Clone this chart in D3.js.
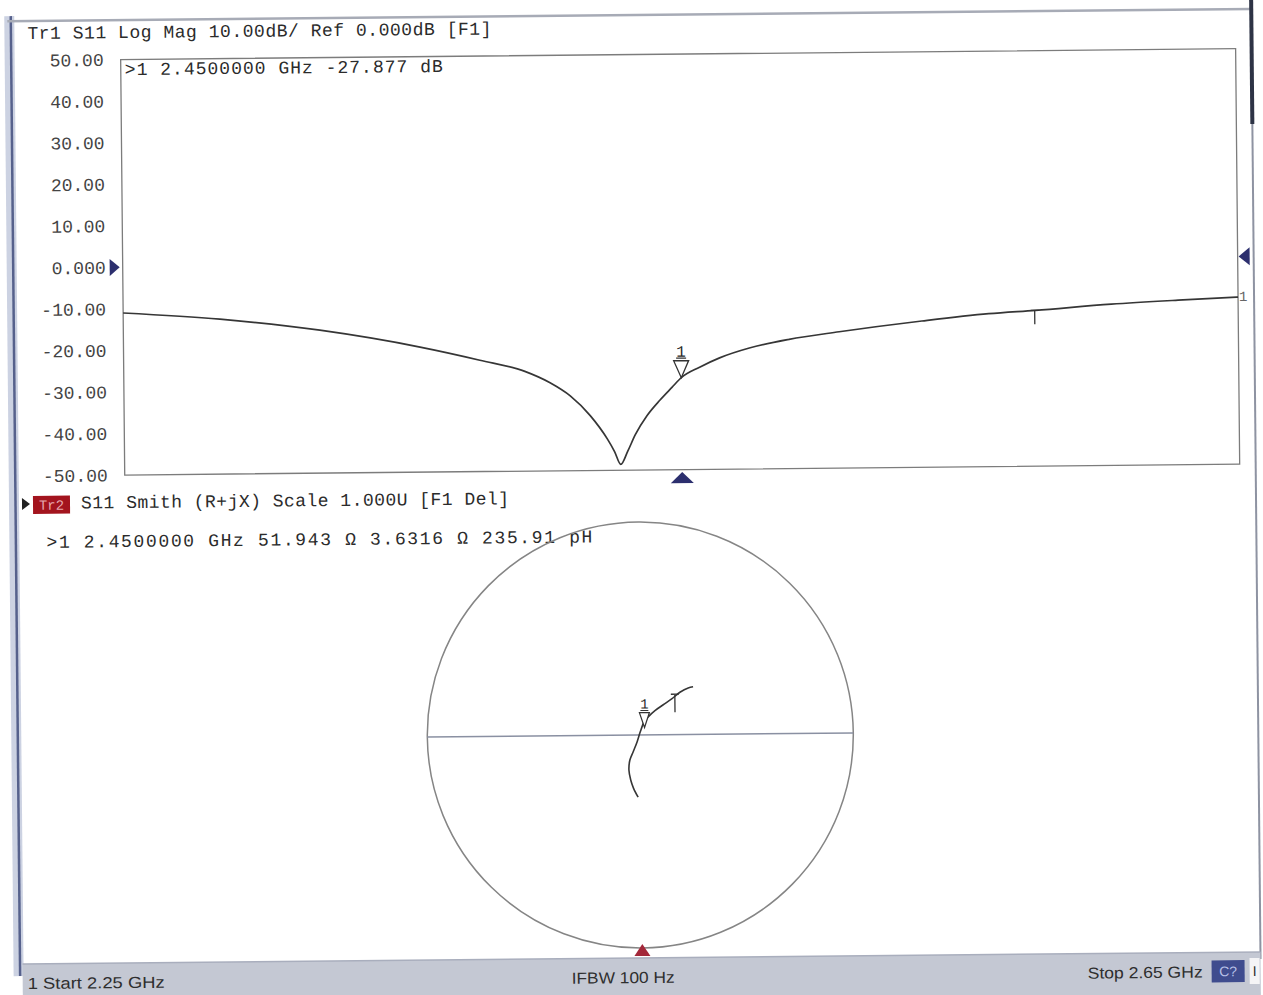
<!DOCTYPE html>
<html>
<head>
<meta charset="utf-8">
<script src="https://cdn.jsdelivr.net/npm/d3@7"></script>
<style>
  body { margin: 0; background: #fff; }
  .mono { font-family: "Liberation Mono", "DejaVu Sans Mono", monospace; fill: #2b2b2b; }
  .sans { font-family: "Liberation Sans", Arial, sans-serif; fill: #2e2e2e; }
</style>
</head>
<body>
<svg id="vna" width="1263" height="995"></svg>
<script>
// ---- data ----
const freqStart = 2.25, freqStop = 2.65;
const yTicks = [50, 40, 30, 20, 10, 0, -10, -20, -30, -40, -50];
const yTickLabels = ["50.00", "40.00", "30.00", "20.00", "10.00", "0.000",
  "-10.00", "-20.00", "-30.00", "-40.00", "-50.00"];

// S11 log mag trace (GHz, dB)
const freqGHz = [2.25, 2.2847, 2.3205, 2.3564, 2.3778, 2.3939, 2.4029, 2.4101, 2.4172,
  2.4233, 2.4258, 2.428, 2.4305, 2.4333, 2.4376, 2.4423, 2.4466, 2.45, 2.4566,
  2.4638, 2.4745, 2.4888, 2.5068, 2.5365, 2.5605, 2.5773, 2.6045, 2.6285, 2.65];
const s11dB = [-11.0, -12.7, -15.6, -19.9, -23.2, -26.0, -28.8, -32.0, -36.8,
  -42.5, -45.5, -48.6, -45.5, -41.5, -36.9, -33.2, -30.2, -27.877, -25.4,
  -23.2, -20.9, -18.9, -17.2, -14.8, -13.2, -12.5, -11.2, -10.4, -9.8];

// S11 smith trace (reflection coefficient, start -> stop)
const smithRe = [-0.013, -0.034, -0.047, -0.055, -0.050, -0.034, -0.015, 0.000,
  0.019, 0.039, 0.070, 0.109, 0.149, 0.188, 0.227, 0.250];
const smithIm = [-0.292, -0.250, -0.211, -0.164, -0.117, -0.078, -0.031, 0.015,
  0.062, 0.086, 0.114, 0.141, 0.168, 0.199, 0.219, 0.224];

// marker 1 and the small stimulus tick
const markerFreq = 2.45, markerDb = -27.877;
const markerR = 51.943, markerX = 3.6316, z0 = 50;
const tickFreq = 2.577, tickDb = -12.5;
const smithTick = [0.164, 0.19];

// screen texts
const hdr1 = "Tr1 S11 Log Mag 10.00dB/ Ref 0.000dB [F1]";
const mk1 = ">1  2.4500000 GHz -27.877 dB";
const hdr2 = "S11 Smith (R+jX) Scale 1.000U [F1 Del]";
const mk2 = ">1  2.4500000 GHz  51.943 \u03A9  3.6316 \u03A9  235.91 pH";
const statusTexts = ["1 Start 2.25 GHz", "IFBW 100 Hz", "Stop 2.65 GHz"];

// ---- drawing ----
var svg = d3.select("#vna");
svg.append("rect").attr("width", 1263).attr("height", 995).attr("fill", "#fff");

// the photo is slightly tilted
var root = svg.append("g").attr("transform", "rotate(-0.56,640,500)");

// window frame
root.append("rect").attr("x", 9).attr("y", 10).attr("width", 10).attr("height", 960).attr("fill", "#ccd2e2");
root.append("line").attr("x1", 15.5).attr("x2", 15.5).attr("y1", 10).attr("y2", 970)
  .attr("stroke", "#56618c").attr("stroke-width", 2.5);
root.append("line").attr("x1", 12).attr("x2", 1256).attr("y1", 15).attr("y2", 15)
  .attr("stroke", "#a7abb6").attr("stroke-width", 2.5);
root.append("line").attr("x1", 1256).attr("x2", 1256).attr("y1", 0).attr("y2", 965)
  .attr("stroke", "#8e93a2").attr("stroke-width", 2);
root.append("line").attr("x1", 1256).attr("x2", 1256).attr("y1", 0).attr("y2", 130)
  .attr("stroke", "#2d3345").attr("stroke-width", 4);

// ---- upper pane: log mag ----
var box = { left: 125, right: 1240, top: 54.5, bottom: 470 };
var x = d3.scaleLinear().domain([freqStart, freqStop]).range([box.left, box.right]),
  y = d3.scaleLinear().domain([-50, 50]).range([box.bottom, box.top]);

root.append("rect")
  .attr("x", box.left).attr("y", box.top)
  .attr("width", box.right - box.left).attr("height", box.bottom - box.top)
  .attr("fill", "none").attr("stroke", "#7c7c7c").attr("stroke-width", 1.3);

root.append("text").attr("class", "mono")
  .attr("x", 32).attr("y", 33).attr("font-size", 18)
  .attr("textLength", 464).text(hdr1);

root.append("text").attr("class", "mono")
  .attr("x", 129).attr("y", 70).attr("font-size", 18)
  .attr("textLength", 318).text(mk1);

var yAxis = root.append("g")
  .attr("transform", `translate(${box.left},0)`)
  .call(d3.axisLeft(y).tickValues(yTicks).tickFormat((d, i) => yTickLabels[i]).tickSize(0).tickPadding(17));
yAxis.select(".domain").remove();
yAxis.selectAll("text")
  .attr("class", "mono")
  .attr("font-size", 18)
  .style("fill", "#444");

// reference level arrows
var yRef = y(0);
root.append("path")
  .attr("d", `M${box.left - 13},${yRef - 8.5} L${box.left - 3},${yRef} L${box.left - 13},${yRef + 8.5} Z`)
  .attr("fill", "#2c2f6e");
root.append("path")
  .attr("d", `M${box.right + 12},${yRef - 9} L${box.right + 1},${yRef} L${box.right + 12},${yRef + 9} Z`)
  .attr("fill", "#2c2f6e");

var trace = freqGHz.map((f, i) => [f, s11dB[i]]);
root.append("path")
  .datum(trace)
  .attr("fill", "none")
  .attr("stroke", "#363636")
  .attr("stroke-width", 1.7)
  .attr("d", d3.line().x(d => x(d[0])).y(d => y(d[1])).curve(d3.curveMonotoneX));

// marker 1
var mx = x(markerFreq), my = y(markerDb);
root.append("path")
  .attr("d", `M${mx - 7.5},${my - 17} L${mx + 7.5},${my - 17} L${mx},${my} Z`)
  .attr("fill", "#fff").attr("stroke", "#333").attr("stroke-width", 1.3);
root.append("line").attr("x1", mx - 5).attr("x2", mx + 5).attr("y1", my - 19.5).attr("y2", my - 19.5)
  .attr("stroke", "#333").attr("stroke-width", 1.2);
root.append("text").attr("class", "mono").attr("font-size", 16)
  .attr("x", mx).attr("y", my - 21).attr("text-anchor", "middle").text("1");
root.append("path")
  .attr("d", `M${mx - 11.5},${box.bottom + 13.5} L${mx + 11.5},${box.bottom + 13.5} L${mx},${box.bottom + 2.5} Z`)
  .attr("fill", "#2c2f6e");

// stimulus tick and trace end label
var tx = x(tickFreq), ty = y(tickDb);
root.append("path")
  .attr("d", `M${tx - 4},${ty} L${tx + 4},${ty} M${tx},${ty} L${tx},${ty + 14}`)
  .attr("fill", "none").attr("stroke", "#333").attr("stroke-width", 1.3);
root.append("text").attr("class", "mono").attr("font-size", 14).style("fill", "#666")
  .attr("x", box.right + 1).attr("y", y(s11dB[s11dB.length - 1]) + 4).text("1");

// ---- lower pane: smith chart ----
root.append("path")
  .attr("d", "M22,492 L30,498 L22,504 Z").attr("fill", "#222");
root.append("rect").attr("x", 33).attr("y", 490).attr("width", 37).attr("height", 18).attr("fill", "#a3141e");
root.append("text").attr("class", "mono").attr("font-size", 14).style("fill", "#e6a7ad")
  .attr("x", 51.5).attr("y", 504).attr("text-anchor", "middle").text("Tr2");
root.append("text").attr("class", "mono")
  .attr("x", 81).attr("y", 503).attr("font-size", 18)
  .attr("textLength", 428).text(hdr2);
root.append("text").attr("class", "mono")
  .attr("x", 46).attr("y", 542).attr("font-size", 18)
  .attr("textLength", 546).text(mk2);

var cx = 638, cy = 735, rad = 213;
var sx = d3.scaleLinear().domain([-1, 1]).range([cx - rad, cx + rad]),
  sy = d3.scaleLinear().domain([-1, 1]).range([cy + rad, cy - rad]);

root.append("circle")
  .attr("cx", sx(0)).attr("cy", sy(0)).attr("r", sx(1) - sx(0))
  .attr("fill", "none").attr("stroke", "#858585").attr("stroke-width", 1.5);
root.append("line")
  .attr("x1", sx(-1)).attr("x2", sx(1)).attr("y1", sy(0)).attr("y2", sy(0))
  .attr("stroke", "#8a90a2").attr("stroke-width", 1.5);

var smith = smithRe.map((r, i) => [r, smithIm[i]]);
root.append("path")
  .datum(smith)
  .attr("fill", "none")
  .attr("stroke", "#363636")
  .attr("stroke-width", 1.6)
  .attr("d", d3.line().x(d => sx(d[0])).y(d => sy(d[1])).curve(d3.curveCatmullRom));

// marker 1 on smith: gamma from the R + jX readout
var zr = markerR / z0, zi = markerX / z0,
  den = (zr + 1) * (zr + 1) + zi * zi,
  gRe = (zr * zr + zi * zi - 1) / den,
  gIm = (2 * zi) / den;
var smx = sx(gRe), smy = sy(gIm);
root.append("path")
  .attr("d", `M${smx - 5},${smy - 15} L${smx + 5},${smy - 15} L${smx},${smy} Z`)
  .attr("fill", "#fff").attr("stroke", "#333").attr("stroke-width", 1.2);
root.append("line").attr("x1", smx - 4).attr("x2", smx + 4).attr("y1", smy - 17).attr("y2", smy - 17)
  .attr("stroke", "#333").attr("stroke-width", 1.1);
root.append("text").attr("class", "mono").attr("font-size", 14)
  .attr("x", smx).attr("y", smy - 19).attr("text-anchor", "middle").text("1");

var stx = sx(smithTick[0]), sty = sy(smithTick[1]);
root.append("path")
  .attr("d", `M${stx - 4},${sty} L${stx + 4},${sty} M${stx},${sty} L${stx},${sty + 18}`)
  .attr("fill", "none").attr("stroke", "#333").attr("stroke-width", 1.3);

root.append("path")
  .attr("d", `M${cx - 8},${cy + rad + 8} L${cx + 8},${cy + rad + 8} L${cx},${cy + rad - 4} Z`)
  .attr("fill", "#a3283a");

// ---- status bar ----
root.append("rect").attr("x", 18).attr("y", 958).attr("width", 1238).attr("height", 50).attr("fill", "#c4c8d3");
root.append("line").attr("x1", 18).attr("x2", 1256).attr("y1", 958).attr("y2", 958)
  .attr("stroke", "#a9aebd").attr("stroke-width", 1.5);

var statusPos = [[23, 137], [567, 103], [1083, 115]];
root.selectAll(".status")
  .data(statusTexts)
  .enter()
  .append("text")
  .attr("class", "sans status")
  .attr("font-size", 16)
  .attr("x", (d, i) => statusPos[i][0])
  .attr("y", 983)
  .attr("textLength", (d, i) => statusPos[i][1])
  .attr("lengthAdjust", "spacingAndGlyphs")
  .text(d => d);

root.append("rect").attr("x", 1207).attr("y", 966).attr("width", 33).attr("height", 22).attr("fill", "#3f4c8e");
root.append("text").attr("class", "sans").attr("font-size", 14).style("fill", "#b9c2e8")
  .attr("x", 1223.5).attr("y", 982).attr("text-anchor", "middle").text("C?");
root.append("rect").attr("x", 1245).attr("y", 964).attr("width", 10).attr("height", 26).attr("fill", "#f4f4f6");
root.append("text").attr("class", "sans").attr("font-size", 14)
  .attr("x", 1250).attr("y", 982).attr("text-anchor", "middle").text("I");
</script>
</body>
</html>
